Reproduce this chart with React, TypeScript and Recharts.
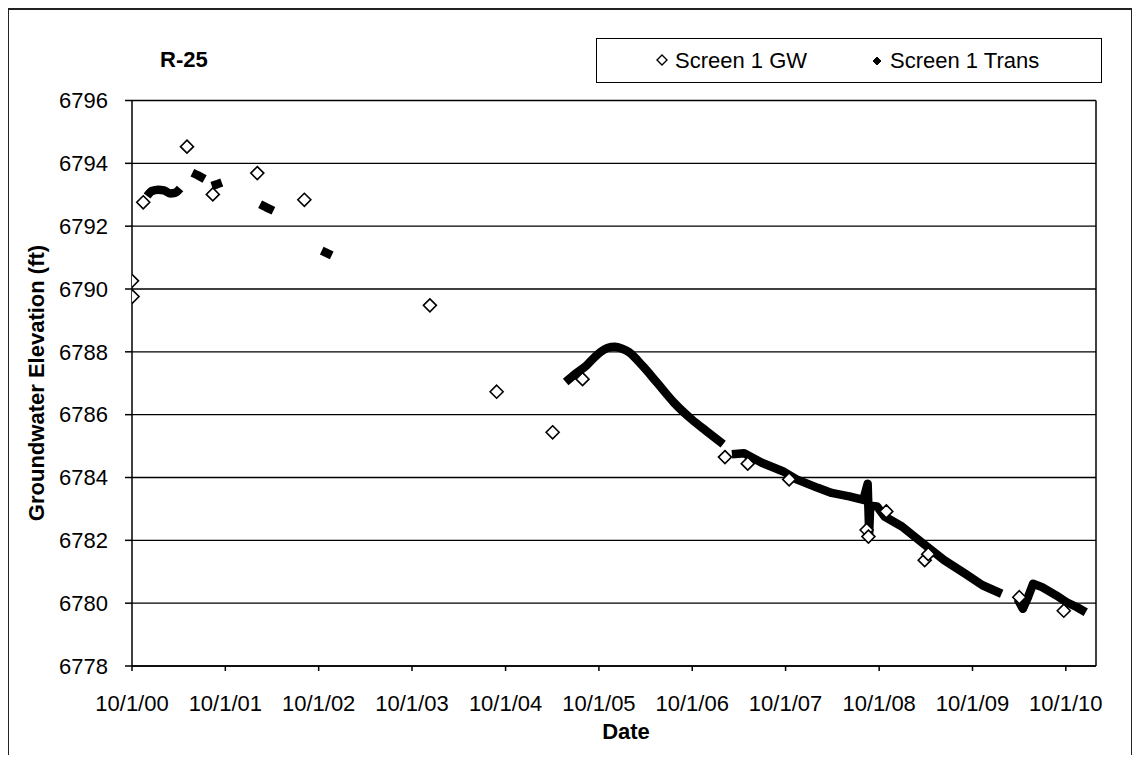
import React from 'react';
import { ComposedChart, Line, Scatter, XAxis, YAxis, CartesianGrid, ReferenceLine, Legend } from 'recharts';

const FONT = '"Liberation Sans", Arial, Helvetica, sans-serif';

const CHART_TITLE = 'R-25';
const X_TITLE = 'Date';
const Y_TITLE = 'Groundwater Elevation (ft)';
const GW_NAME = 'Screen 1 GW';
const TRANS_NAME = 'Screen 1 Trans';

const xTickDates = ['2000-10-01', '2001-10-01', '2002-10-01', '2003-10-01', '2004-10-01', '2005-10-01', '2006-10-01', '2007-10-01', '2008-10-01', '2009-10-01', '2010-10-01'];
const xTickLabels = ['10/1/00', '10/1/01', '10/1/02', '10/1/03', '10/1/04', '10/1/05', '10/1/06', '10/1/07', '10/1/08', '10/1/09', '10/1/10'];
const xDomainDates = ['2000-10-01', '2011-01-27'];
const yTicks = [6778, 6780, 6782, 6784, 6786, 6788, 6790, 6792, 6794, 6796];

// Screen 1 GW (open diamonds)
const gwDates = ['2000-10-01', '2000-10-03', '2000-11-14', '2001-05-04', '2001-08-13', '2002-02-03', '2002-08-06', '2003-12-10', '2004-08-27', '2005-04-03', '2005-07-29', '2007-02-06', '2007-05-06', '2007-10-15', '2008-08-13', '2008-08-20', '2008-10-29', '2009-03-28', '2009-04-11', '2010-04-02', '2010-09-23'];
const gwValues = [6790.26, 6789.76, 6792.76, 6794.53, 6793.01, 6793.69, 6792.84, 6789.48, 6786.73, 6785.44, 6787.13, 6784.65, 6784.44, 6783.94, 6782.33, 6782.12, 6782.92, 6781.37, 6781.56, 6780.19, 6779.76];

// Screen 1 Trans (transducer record, segments)
const trans1Dates = ['2000-11-29', '2000-12-18', '2001-01-11', '2001-02-03', '2001-02-27', '2001-03-18', '2001-04-07'];
const trans1Values = [6792.96, 6793.12, 6793.16, 6793.14, 6793.04, 6793.06, 6793.20];
const trans2Dates = ['2001-05-25', '2001-06-15', '2001-07-12'];
const trans2Values = [6793.70, 6793.62, 6793.50];
const trans3Dates = ['2001-08-09', '2001-08-28', '2001-09-17'];
const trans3Values = [6793.28, 6793.33, 6793.39];
const trans4Dates = ['2002-02-14', '2002-03-10', '2002-04-07'];
const trans4Values = [6792.70, 6792.60, 6792.49];
const trans5Dates = ['2002-10-13', '2002-11-21'];
const trans5Values = [6791.22, 6791.07];
const trans6Dates = ['2005-05-24', '2005-07-01', '2005-08-14', '2005-09-13', '2005-10-08', '2005-11-03', '2005-12-02', '2005-12-31', '2006-01-25', '2006-03-21', '2006-05-15', '2006-07-22', '2006-09-29', '2006-11-23', '2007-01-30'];
const trans6Values = [6787.04, 6787.30, 6787.57, 6787.82, 6788.00, 6788.12, 6788.16, 6788.10, 6788.00, 6787.55, 6787.03, 6786.38, 6785.85, 6785.49, 6785.06];
const trans7Dates = ['2007-03-05', '2007-04-22', '2007-06-30', '2007-09-20', '2007-11-13', '2008-02-04', '2008-03-29', '2008-06-06', '2008-07-31', '2008-08-17', '2008-08-20', '2008-08-23', '2008-08-27', '2008-09-23', '2008-10-22', '2008-12-29', '2009-03-22', '2009-06-12', '2009-09-02', '2009-11-09', '2010-01-23'];
const trans7Values = [6784.74, 6784.77, 6784.47, 6784.20, 6783.94, 6783.67, 6783.51, 6783.40, 6783.29, 6783.80, 6783.00, 6782.25, 6783.10, 6783.08, 6782.76, 6782.44, 6781.90, 6781.37, 6780.94, 6780.57, 6780.30];
const trans8Dates = ['2010-03-26', '2010-04-16', '2010-05-06', '2010-05-26', '2010-06-30', '2010-08-24', '2010-10-04', '2010-11-14', '2010-12-18'];
const trans8Values = [6780.14, 6779.82, 6780.19, 6780.62, 6780.51, 6780.25, 6780.03, 6779.87, 6779.71];

const toMs = (s: string) => Date.parse(s + 'T00:00:00Z');
const zip = (dates: string[], values: number[]) => dates.map((d, i) => ({ t: toMs(d), v: values[i] }));

const gwData = zip(gwDates, gwValues);
const transSegments = [
  { data: zip(trans1Dates, trans1Values), curve: 'monotone' },
  { data: zip(trans2Dates, trans2Values), curve: 'linear' },
  { data: zip(trans3Dates, trans3Values), curve: 'linear' },
  { data: zip(trans4Dates, trans4Values), curve: 'linear' },
  { data: zip(trans5Dates, trans5Values), curve: 'linear' },
  { data: zip(trans6Dates, trans6Values), curve: 'monotone' },
  { data: zip(trans7Dates, trans7Values), curve: 'linear' },
  { data: zip(trans8Dates, trans8Values), curve: 'linear' },
];

const xTicks = xTickDates.map(toMs);
const xDomain = xDomainDates.map(toMs);
const tickLabelOf = (t: number) => {
  const i = xTicks.indexOf(t);
  return i >= 0 ? xTickLabels[i] : '';
};

const diamondPath = (cx: number, cy: number, r: number) =>
  `M${cx},${cy - r}L${cx + r},${cy}L${cx},${cy + r}L${cx - r},${cy}Z`;

const OpenDiamond = (props: any) => {
  const { cx, cy } = props;
  if (cx == null || cy == null) return null;
  return <path d={diamondPath(cx, cy, 6.5)} fill="#fff" stroke="#000" strokeWidth={1.6} />;
};

const LegendBox = () => (
  <div style={{ width: 506, height: 45, border: '1.5px solid #000', boxSizing: 'border-box', background: '#fff', position: 'relative' }}>
    <svg width={506} height={45} style={{ position: 'absolute', left: -1.5, top: -1.5 }}>
      <path d={diamondPath(66, 23, 5)} fill="#fff" stroke="#000" strokeWidth={1.4} />
      <text x={79} y={30.6} fontSize={22} fontFamily={FONT} fill="#000">{GW_NAME}</text>
      <path d={diamondPath(281, 24, 4)} fill="#000" stroke="#000" strokeWidth={1} />
      <text x={294} y={30.6} fontSize={22} fontFamily={FONT} fill="#000">{TRANS_NAME}</text>
    </svg>
  </div>
);

export default function App() {
  return (
    <div style={{ position: 'relative', width: 1124, height: 747, overflow: 'visible' }}>
      <div style={{ position: 'absolute', left: -1, top: 0, width: 1126, height: 753, border: '2px solid #222', boxSizing: 'border-box' }} />
      <div style={{ position: 'absolute', left: -1, top: 0, width: 1126, height: 754 }}>
        <ComposedChart
          width={1126}
          height={754}
          margin={{ top: 92.5, right: 37, left: 0, bottom: 36 }}
          style={{ fontFamily: FONT }}
        >
          <CartesianGrid horizontal vertical={false} stroke="#000" strokeWidth={1.3} />
          <XAxis
            type="number"
            dataKey="t"
            domain={xDomain}
            ticks={xTicks}
            interval={0}
            allowDataOverflow
            tickFormatter={tickLabelOf}
            height={60}
            tickSize={5}
            tickMargin={24}
            axisLine={{ stroke: '#000', strokeWidth: 1.5 }}
            tickLine={{ stroke: '#000', strokeWidth: 1.5 }}
            tick={{ fill: '#000', fontSize: 22, fontFamily: FONT }}
            label={{
              content: () => (
                <text x={619} y={731.3} textAnchor="middle" fontSize={22} fontWeight="bold" fontFamily={FONT} fill="#000">
                  {X_TITLE}
                </text>
              ),
            }}
          />
          <YAxis
            type="number"
            dataKey="v"
            domain={[6778, 6796]}
            ticks={yTicks}
            interval={0}
            allowDataOverflow
            width={125}
            tickSize={7}
            tickMargin={17}
            axisLine={{ stroke: '#000', strokeWidth: 1.5 }}
            tickLine={{ stroke: '#000', strokeWidth: 1.5 }}
            tick={{ fill: '#000', fontSize: 22, fontFamily: FONT }}
            label={{
              content: () => (
                <text
                  x={29}
                  y={375}
                  transform="rotate(-90 29 375)"
                  textAnchor="middle"
                  dy="0.35em"
                  fontSize={22}
                  fontWeight="bold"
                  fontFamily={FONT}
                  fill="#000"
                >
                  {Y_TITLE}
                </text>
              ),
            }}
          />
          <ReferenceLine x={xDomain[1]} stroke="#000" strokeWidth={1.5} />
          {transSegments.map((seg, i) => (
            <Line
              key={'trans' + i}
              data={seg.data}
              dataKey="v"
              name={TRANS_NAME}
              type={seg.curve as any}
              stroke="#000"
              strokeWidth={8.5}
              strokeLinejoin="round"
              dot={false}
              activeDot={false}
              legendType="none"
              isAnimationActive={false}
            />
          ))}
          <Scatter
            data={gwData}
            dataKey="v"
            name={GW_NAME}
            shape={<OpenDiamond />}
            legendType="none"
            isAnimationActive={false}
          />
          <Legend
            verticalAlign="middle"
            layout="horizontal"
            content={<LegendBox />}
            wrapperStyle={{ position: 'absolute', left: 589, top: 29.7, width: 506, height: 45 }}
          />
        </ComposedChart>
      </div>
      <svg width={300} height={80} style={{ position: 'absolute', left: -8, top: -8, pointerEvents: 'none' }}>
        <text x={160} y={66.7} fontSize={22} fontWeight="bold" fontFamily={FONT} fill="#000">{CHART_TITLE}</text>
      </svg>
    </div>
  );
}
